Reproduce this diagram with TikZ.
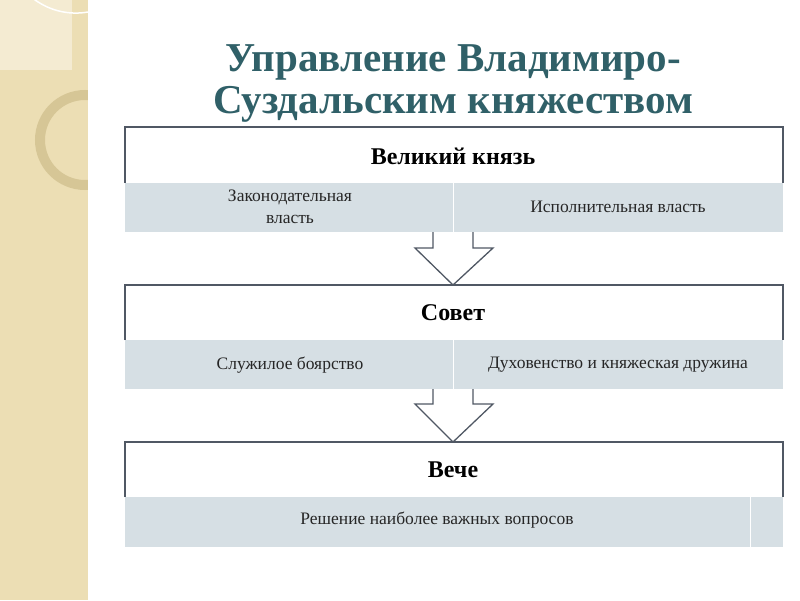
\documentclass[tikz,border=0pt]{standalone}
\usepackage{fontspec}
\setmainfont{Liberation Serif}
\usetikzlibrary{positioning}
\definecolor{band}{RGB}{236,222,180}
\definecolor{ring}{RGB}{214,198,150}
\definecolor{titleteal}{RGB}{48,96,104}
\definecolor{cellgray}{RGB}{214,223,228}
\definecolor{edgegray}{RGB}{80,88,100}
\tikzset{
  head/.style={font=\fontsize{24}{26}\selectfont\bfseries},
  cell/.style={font=\fontsize{17.5}{22}\selectfont, align=center, text=black!85},
  frame/.style={draw=edgegray, line width=2pt},
  outarrow/.style={draw=edgegray, line width=1.3pt, fill=white, line join=miter}
}
\begin{document}
\begin{tikzpicture}[x=1pt,y=-1pt]
  \useasboundingbox (0,0) rectangle (800,600);
  \fill[white] (0,0) rectangle (800,600);
  % left band
  \fill[band] (0,0) rectangle (88,600);
  \fill[band!60!white] (0,0) rectangle (72,70);
  \draw[white, line width=1.5pt] (88,12) arc[start angle=80, end angle=270, radius=70];
  \draw[ring, line width=10pt] (85,140) circle[radius=45];
  \fill[white] (88,0) rectangle (800,600);

  % title
  \node[text=titleteal, font=\fontsize{41}{42}\selectfont\bfseries, align=center]
    (title) at (453,83) {Управление Владимиро-\\Суздальским княжеством};

  % level 1
  \fill[cellgray] (125,183) rectangle (783,232);
  \draw[white, line width=1pt] (453,183) -- (453,232);
  \draw[frame] (125,183) -- (125,127) -- (783,127) -- (783,183);
  \node[head] (prince) at (453,156) {Великий князь};
  \node[cell] (law) at (290,207) {Законодательная\\власть};
  \node[cell] (exec) at (618,207) {Исполнительная власть};

  % level 2
  \fill[cellgray] (125,340) rectangle (783,389);
  \draw[white, line width=1pt] (453,340) -- (453,389);
  \draw[frame] (125,340) -- (125,285) -- (783,285) -- (783,340);
  \node[head] (council) at (453,313) {Совет};
  \node[cell] (boyars) at (290,365) {Служилое боярство};
  \node[cell] (clergy) at (618,365) {Духовенство и княжеская дружина};

  % level 3
  \fill[cellgray] (125,497) rectangle (783,547);
  \draw[white, line width=1pt] (750,497) -- (750,547);
  \draw[frame] (125,497) -- (125,442) -- (783,442) -- (783,497);
  \node[head] (veche) at (453,470) {Вече};
  \node[cell] (issues) at (437,520) {Решение наиболее важных вопросов};

  % hollow arrows between levels
  \draw[outarrow] (433,232) -- (433,248) -- (415,248) -- (453,285)
    -- (493,248) -- (473,248) -- (473,232);
  \draw[outarrow] (433,389) -- (433,404) -- (415,404) -- (453,442)
    -- (493,404) -- (473,404) -- (473,389);
  \draw[frame] (125,285) -- (783,285);
  \draw[frame] (125,442) -- (783,442);
\end{tikzpicture}
\end{document}
